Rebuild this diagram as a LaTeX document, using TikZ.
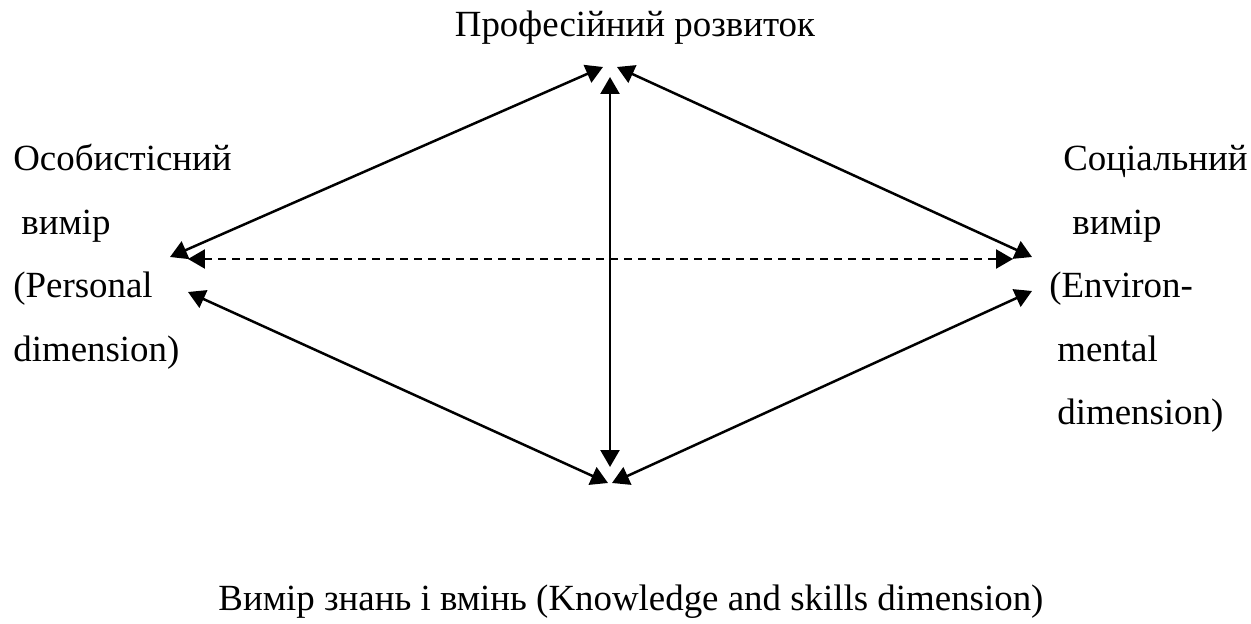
\documentclass[tikz,border=0pt]{standalone}
\usepackage{fontspec}
\setmainfont{Liberation Serif}
\usetikzlibrary{arrows.meta}

\begin{document}
\begin{tikzpicture}[x=0.02cm, y=-0.02cm,
        lbl/.style={inner sep=0pt, anchor=base west, font=\fontsize{21}{25}\selectfont},
        link/.style={line width=.5mm, {Triangle[length=3.4mm, width=3.8mm]}-{Triangle[length=3.4mm, width=3.8mm]}}]
        \useasboundingbox (0, 0) rectangle (1251, 624);
        % arrow ends
        \coordinate (topL) at (603, 67);
        \coordinate (topR) at (617, 67);
        \coordinate (topV) at (610, 77);
        \coordinate (botV) at (610, 467);
        \coordinate (botL) at (608, 483);
        \coordinate (botR) at (612, 483);
        \coordinate (persU) at (170, 257);
        \coordinate (persD) at (188, 259);
        \coordinate (persL) at (188, 292);
        \coordinate (envU) at (1032, 257);
        \coordinate (envD) at (1013, 259);
        \coordinate (envL) at (1032, 291);
        % labels
        \node[lbl, anchor=base] (prof) at (635, 37) {Професійний розвиток};
        \node[lbl] (pers1) at (13, 171) {Особистісний};
        \node[lbl] (pers2) at (21, 235) {вимір};
        \node[lbl] (pers3) at (13, 298) {(Personal};
        \node[lbl] (pers4) at (13, 362) {dimension)};
        \node[lbl] (env1) at (1063, 171) {Соціальний};
        \node[lbl] (env2) at (1072, 235) {вимір};
        \node[lbl] (env3) at (1049, 298) {(Environ-};
        \node[lbl] (env4) at (1057, 362) {mental};
        \node[lbl] (env5) at (1057, 425) {dimension)};
        \node[lbl, anchor=base] (know) at (631, 610) {Вимір знань і вмінь (Knowledge and skills dimension)};
        % links
        \draw[link] (persU) -- (topL);
        \draw[link] (topR) -- (envU);
        \draw[link] (topV) -- (botV);
        \draw[link, dash pattern=on 1.6mm off 1.2mm] (persD) -- (envD);
        \draw[link] (persL) -- (botL);
        \draw[link] (botR) -- (envL);
\end{tikzpicture}
\end{document}
